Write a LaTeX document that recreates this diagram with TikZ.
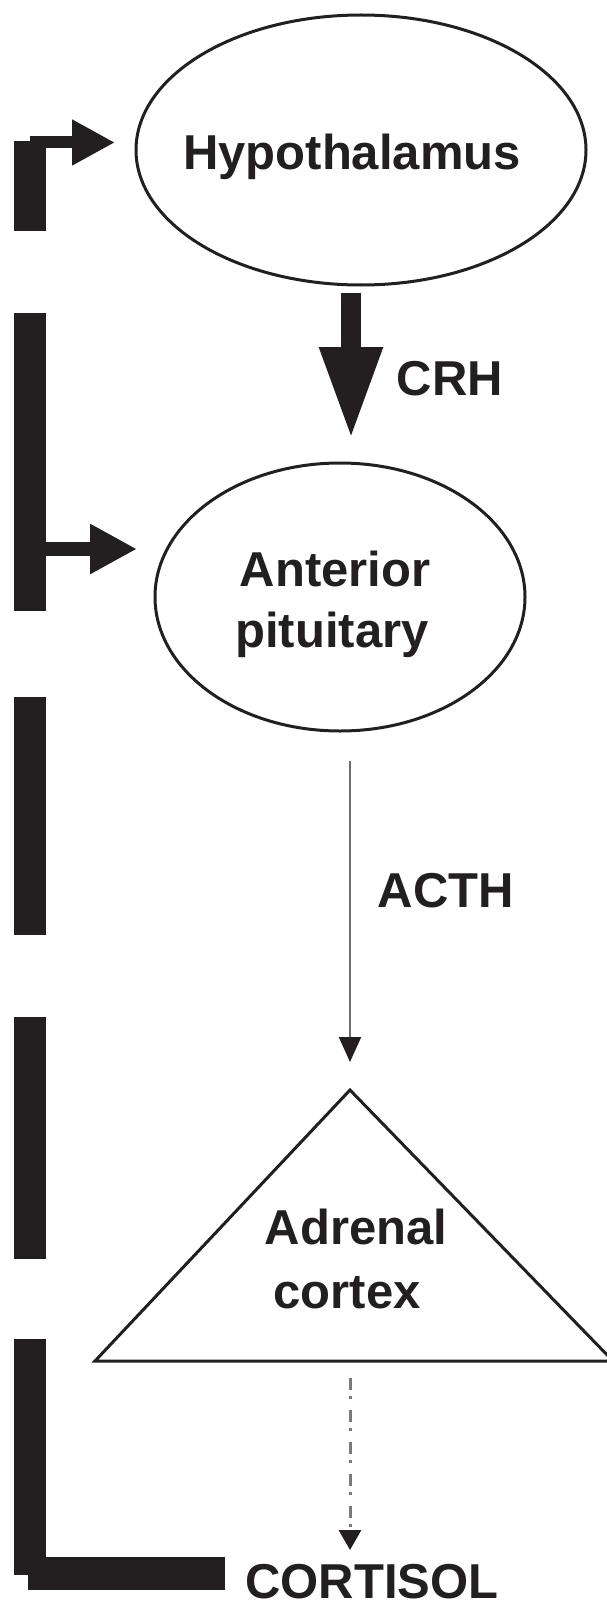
\documentclass[tikz,border=0pt]{standalone}
\usepackage{fontspec}
\setmainfont{Liberation Sans}
\usetikzlibrary{arrows.meta,shapes.geometric}
\definecolor{ink}{RGB}{35,31,32}
\begin{document}
\begin{tikzpicture}[x=1pt,y=-1pt,
  lbl/.style={font=\fontsize{49}{59}\selectfont\bfseries, text=ink, inner sep=0pt, anchor=base},
  organ/.style={draw=ink, line width=3pt, ellipse, inner sep=0pt},
  bar/.style={fill=ink},
  bigarrow/.style={draw=ink, line width=20pt, -{Triangle[length=93pt 0 0, width=58pt 0 0, color=ink]}},
  fbarrow/.style={draw=ink, line width=#1},
  thinarrow/.style={draw=ink!65, line width=2.2pt, -{Triangle[length=25pt 0 0, width=22pt 0 0, color=ink]}},
  dotarrow/.style={draw=ink!60, line width=3pt, dash pattern=on 12pt off 6pt on 3pt off 11pt, -{Triangle[length=20pt 0 0, width=22pt 0 0, color=ink]}}
]
\useasboundingbox (0,0) rectangle (607,1621);

% organs
\node[organ, minimum width=450pt, minimum height=270pt] (hyp) at (361,150) {};
\node[organ, minimum width=370pt, minimum height=268pt] (pit) at (340,597) {};
\draw[ink, line width=3pt, line join=miter] (95,1361) coordinate (adrL) -- (350,1090) coordinate (adrT) -- (613,1361) coordinate (adrR) -- cycle;

% labels
\node[lbl] (hyptext) at (352,170) {Hypothalamus};
\node[lbl] (crh) at (450,395) {CRH};
\node[lbl] (ant) at (335,586) {Anterior};
\node[lbl] (pitu) at (332,647) {pituitary};
\node[lbl] (acth) at (446,907) {ACTH};
\node[lbl] (adr) at (356,1244) {Adrenal};
\node[lbl] (ctx) at (347,1308) {cortex};
\node[lbl] (cort) at (372,1598) {CORTISOL};

% hormone arrows
\coordinate (crhA) at (351,293);
\coordinate (crhB) at (351,440);
\draw[bigarrow] (crhA) -- (crhB);
\coordinate (acthA) at (350,761);
\coordinate (acthB) at (350,1062);
\draw[thinarrow] (acthA) -- (acthB);
\coordinate (cortA) at (350,1378);
\coordinate (cortB) at (350,1550);
\draw[dotarrow] (cortA) -- (cortB);

% feedback bars
\fill[bar] (14,141) rectangle (46,231);
\fill[bar] (14,313) rectangle (46,611);
\fill[bar] (14,697) rectangle (46,935);
\fill[bar] (14,1017) rectangle (46,1259);
\fill[bar] (14,1339) rectangle (46,1575);
\fill[bar] (28,1557) rectangle (225,1590);

% feedback arrows
\coordinate (fb1) at (30,142.5);
\coordinate (fb1tip) at (115,142.5);
\draw[fbarrow=12pt, -{Triangle[length=43pt 0 0, width=43pt 0 0, color=ink]}] (fb1) -- (fb1tip);
\coordinate (fb2) at (40,549);
\coordinate (fb2tip) at (137,549);
\draw[fbarrow=14pt, -{Triangle[length=47pt 0 0, width=47pt 0 0, color=ink]}] (fb2) -- (fb2tip);
\end{tikzpicture}
\end{document}
